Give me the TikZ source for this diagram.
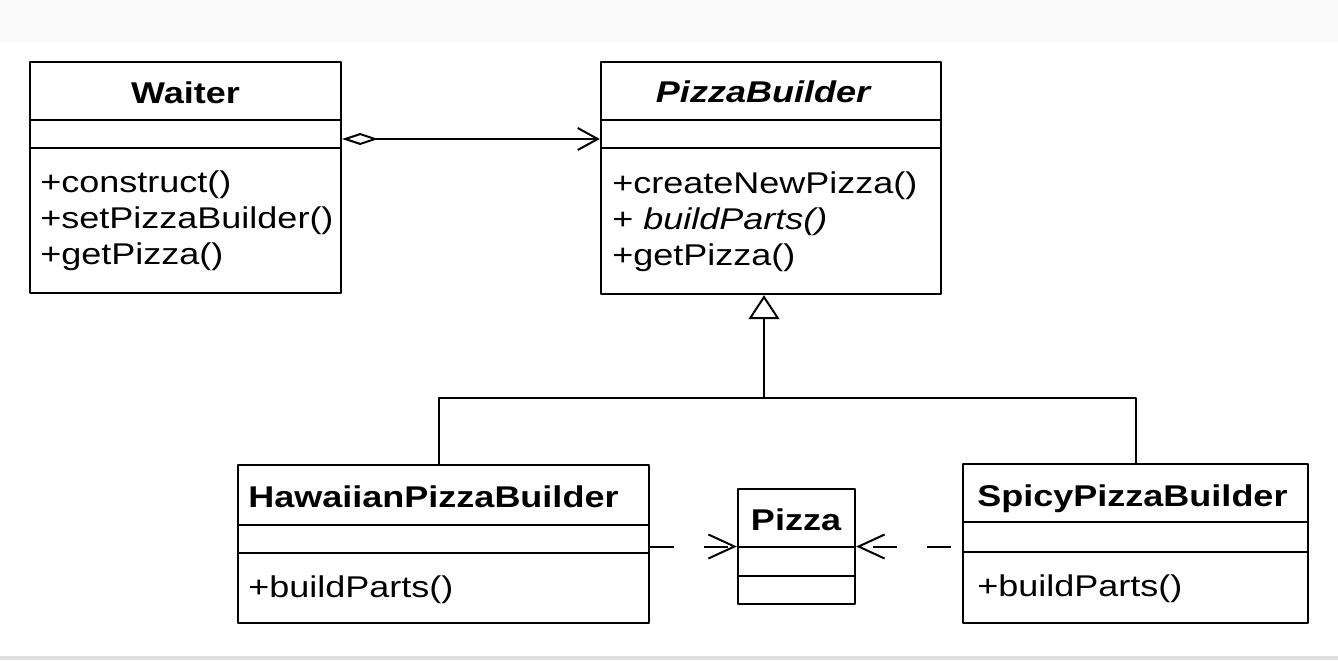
\documentclass[tikz,border=0pt]{standalone}
\usepackage{fontspec}
\setmainfont{Liberation Sans}[FakeStretch=1.2]
\usetikzlibrary{arrows.meta}
\newcommand\umlsize{\fontsize{15pt}{18pt}\selectfont}
\tikzset{
  classbox/.style n args={2}{draw,line width=1.2pt,inner sep=0pt,
    minimum width=#1*0.5pt,minimum height=#2*0.5pt},
  classname/.style={font=\umlsize\bfseries,inner sep=0pt,anchor=base},
  member/.style={font=\umlsize,inner sep=0pt,anchor=base west},
  link/.style={line width=1pt},
  aggr/.style={link,{Diamond[open,length=18pt,width=6pt]}-{Straight Barb[length=10pt,width=11pt]}},
  inherit/.style={link,-{Triangle[open,length=12pt,width=15.5pt]}},
  dep/.style={link,dash pattern=on 12pt off 15pt,-{Straight Barb[length=13pt,width=12pt]}}
}
\begin{document}
\begin{tikzpicture}[x=0.5pt,y=-0.5pt,font=\umlsize,line join=round]
  \useasboundingbox (0,0) rectangle (1338,660);
  \fill[white] (0,0) rectangle (1338,660);
  \fill[gray!4] (0,0) rectangle (1338,42);
  \fill[gray!25] (0,656) rectangle (1338,660);
  %Classes
  \node[classbox={311}{231}] (Waiter) at (185.5,177.5) {};
  \node[classbox={340}{232}] (PizzaBuilder) at (771,178) {};
  \node[classbox={411}{158}] (Hawaiian) at (443.5,544) {};
  \node[classbox={117}{115}] (Pizza) at (796.5,546.5) {};
  \node[classbox={345}{159}] (Spicy) at (1135.5,543.5) {};
  \foreach \n/\a/\b in {Waiter/120/148,PizzaBuilder/120/148,Hawaiian/525/553,Pizza/547/576,Spicy/522/552}
    \draw[line width=1.2pt] (\n.west |- 0,\a) -- (\n.east |- 0,\a) (\n.west |- 0,\b) -- (\n.east |- 0,\b);
  %Names and operations
  \node[classname] (waiterName) at (185.5,103) {Waiter};
  \node[classname,font=\umlsize\bfseries\itshape] (builderName) at (763,102) {PizzaBuilder};
  \node[classname,anchor=base west] (hawaiianName) at (248,507) {HawaiianPizzaBuilder};
  \node[classname] (pizzaName) at (796,530) {Pizza};
  \node[classname,anchor=base west] (spicyName) at (977,506) {SpicyPizzaBuilder};
  \foreach \t [count=\i] in {+construct(),+setPizzaBuilder(),+getPizza()}
    \node[member] (waiterOp\i) at (40,{156+36*\i}) {\t};
  \foreach \t [count=\i] in {+createNewPizza(),+ \textit{buildParts()},+getPizza()}
    \node[member] (builderOp\i) at (612,{157+36*\i}) {\t};
  \node[member] (hawaiianOp) at (248,597) {+buildParts()};
  \node[member] (spicyOp) at (977,596) {+buildParts()};
  %Connectors
  \coordinate (aggStart) at ([yshift=19.25pt]Waiter.east);
  \draw[aggr] (aggStart) -- (aggStart -| PizzaBuilder.west);
  \coordinate (fork) at (764,398);
  \draw[link] (Hawaiian.north -| 439,0) |- (fork) -| (Spicy.north);
  \draw[inherit] (fork) -- (PizzaBuilder.south -| fork);
  \draw[dep] (Hawaiian.east |- Pizza.west) -- (Pizza.west);
  \draw[dep,dash phase=21.5pt] (Spicy.west |- Pizza.east) -- (Pizza.east);
\end{tikzpicture}
\end{document}
